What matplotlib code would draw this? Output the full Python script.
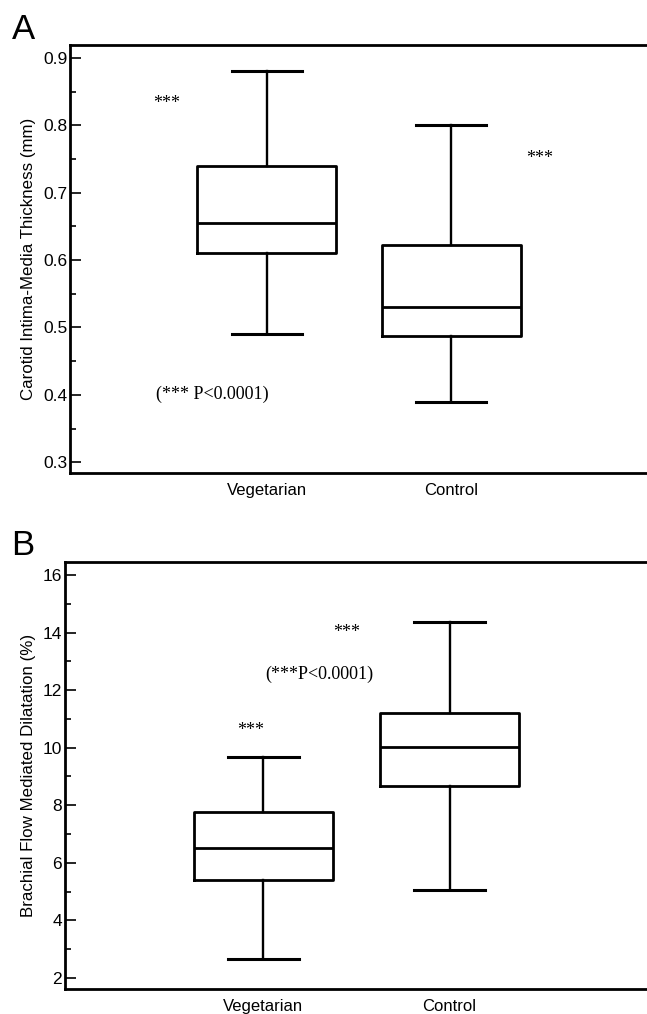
import matplotlib
matplotlib.use("Agg")
import matplotlib.pyplot as plt
from matplotlib.ticker import MultipleLocator, FormatStrFormatter

plt.rcParams['font.family'] = ['Liberation Sans', 'DejaVu Sans']

groups = ["Vegetarian", "Control"]

# panel A: carotid IMT (mm) -> whisker low, Q1, median, Q3, whisker high
imt_low = [0.49, 0.39]
imt_q1 = [0.61, 0.487]
imt_med = [0.655, 0.53]
imt_q3 = [0.74, 0.622]
imt_high = [0.88, 0.80]

# panel B: brachial FMD (%)
fmd_low = [2.67, 5.05]
fmd_q1 = [5.39, 8.68]
fmd_med = [6.51, 10.04]
fmd_q3 = [7.78, 11.22]
fmd_high = [9.68, 14.38]


def make_stats(low, q1, med, q3, high):
    stats = []
    for i in range(len(groups)):
        stats.append(dict(whislo=low[i], q1=q1[i], med=med[i], q3=q3[i],
                          whishi=high[i], fliers=[], label=groups[i]))
    return stats


def draw_panel(ax, stats, ylim, major, minor, ylabel):
    ax.bxp(stats, positions=[1, 2], widths=0.75, capwidths=0.38,
           showfliers=False, patch_artist=False,
           boxprops=dict(color='black', linewidth=2.0),
           medianprops=dict(color='black', linewidth=2.0),
           whiskerprops=dict(color='black', linewidth=1.7),
           capprops=dict(color='black', linewidth=2.2))
    ax.set_xlim(-0.065, 3.06)
    ax.set_ylim(*ylim)
    ax.yaxis.set_major_locator(MultipleLocator(major))
    ax.yaxis.set_minor_locator(MultipleLocator(minor))
    ax.tick_params(axis='y', which='major', direction='in', length=8,
                   width=1.2, labelsize=12.5, pad=2)
    ax.tick_params(axis='y', which='minor', direction='in', length=4,
                   width=1.2)
    ax.tick_params(axis='x', length=0, labelsize=12, pad=7)
    for side in ['left', 'top', 'bottom']:
        ax.spines[side].set_linewidth(2.0)
    ax.spines['right'].set_visible(False)
    ax.set_ylabel(ylabel, fontsize=12.2, labelpad=5)


fig = plt.figure(figsize=(6.47, 10.14), dpi=100)

axA = fig.add_axes([0.1082, 0.5335, 0.892, 0.4221])
draw_panel(axA, make_stats(imt_low, imt_q1, imt_med, imt_q3, imt_high),
           (0.284, 0.919), 0.1, 0.05, "Carotid Intima-Media Thickness (mm)")
axA.yaxis.set_major_formatter(FormatStrFormatter('%.1f'))

axB = fig.add_axes([0.1005, 0.0247, 0.8995, 0.4211])
draw_panel(axB, make_stats(fmd_low, fmd_q1, fmd_med, fmd_q3, fmd_high),
           (1.62, 16.45), 2, 1, "Brachial Flow Mediated Dilatation (%)")

fig.text(12 / 647, 1 - 39 / 1014, "A", fontsize=25, ha='left', va='baseline')
fig.text(11 / 647, 1 - 555 / 1014, "B", fontsize=25, ha='left', va='baseline')

serif = ['Liberation Serif', 'DejaVu Serif']
axA.text(0.46, 0.832, "***", family=serif, fontsize=13, ha='center', va='center')
axA.text(2.48, 0.751, "***", family=serif, fontsize=13, ha='center', va='center')
axA.text(0.708, 0.401, "(*** P<0.0001)", family=serif, fontsize=13,
         ha='center', va='center')

axB.text(1.446, 13.99, "***", family=serif, fontsize=13, ha='center', va='center')
axB.text(1.30, 12.56, "(***P<0.0001)", family=serif, fontsize=13,
         ha='center', va='center')
axB.text(0.93, 10.58, "***", family=serif, fontsize=13, ha='center', va='center')

fig.savefig("out.png", dpi=100)
